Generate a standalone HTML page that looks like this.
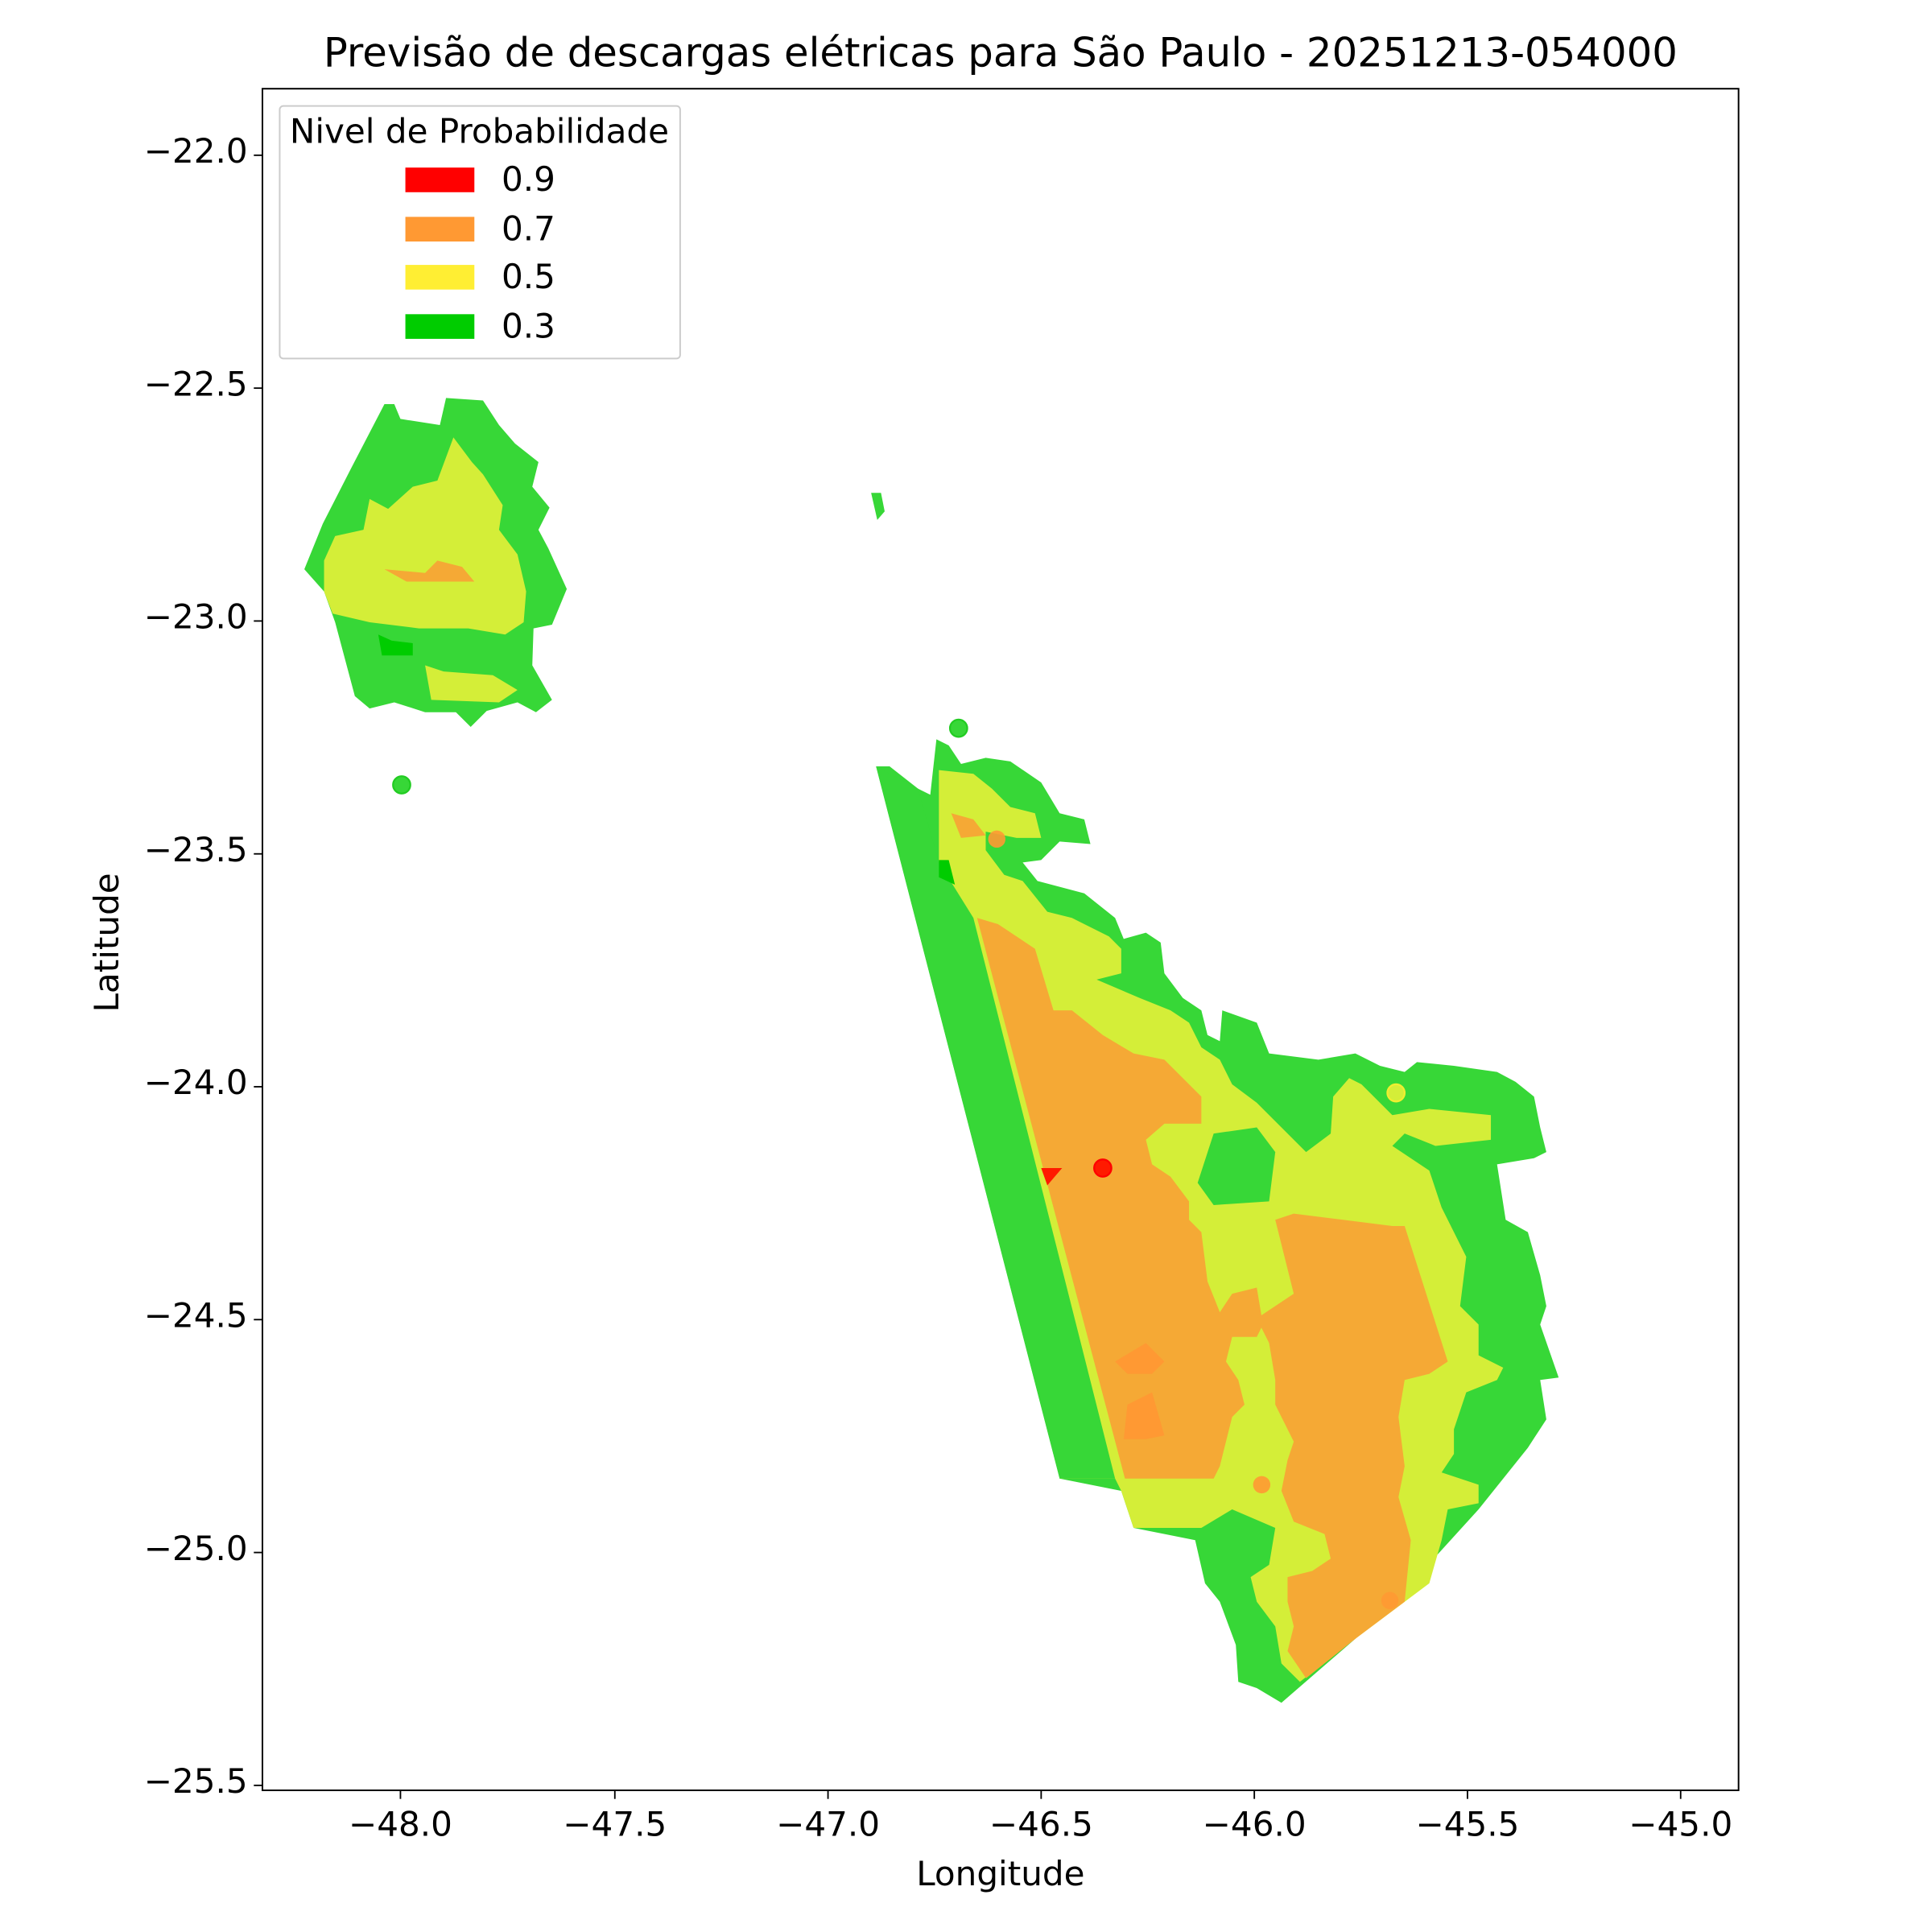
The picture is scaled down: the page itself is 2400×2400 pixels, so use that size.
<!DOCTYPE html>
<html><head><meta charset="utf-8"><style>
html,body{margin:0;padding:0;background:#fff;}
svg{display:block;}
text{font-family:"DejaVu Sans","Liberation Sans",sans-serif;fill:#000;}
</style></head><body>
<svg width="2400" height="2400" viewBox="0 0 1568 1568" xmlns="http://www.w3.org/2000/svg">
<rect width="1568" height="1568" fill="#fff"/>
<text x="812" y="54" font-size="32.5" text-anchor="middle">Previsão de descargas elétricas para São Paulo - 20251213-054000</text>

<polygon fill="#37d737" points="247,462 262,425 285,380 312,328 320,328 325,340 357,345 362,323 392,325 405,345 418,360 437,375 432,395 446,412 437,430 445,445 460,478 448,507 433,510 432,540 448,568 435,578 420,570 395,577 382,590 370,578 345,578 320,570 300,575 288,565 280,535 272,505 263,480"/>
<polygon fill="#d4ee38" points="263,455 272,435 295,430 300,405 315,413 335,395 355,390 368,355 383,375 392,385 408,410 405,430 420,450 427,480 425,505 410,515 380,510 340,510 300,505 270,498 263,480"/>
<polygon fill="#d4ee38" points="345,540 360,545 400,548 420,560 405,570 350,568"/>
<polygon fill="#f5a935" points="312,462 345,465 355,455 375,460 385,472 330,472"/>
<polygon fill="#00cc00" points="307,515 318,520 335,522 335,532 310,532"/>
<polygon fill="#37d737" points="707,400 715,400 718,415 712,422"/>

<polygon fill="#37d737" points="711,622 722,622 745,640 755,645 760,600 770,605 780,620 800,615 820,618 845,635 860,660 880,665 885,685 860,683 845,698 830,700 842,715 880,725 905,745 912,762 930,757 942,765 945,790 960,810 975,820 980,840 990,845 992,820 1020,830 1030,855 1070,860 1100,855 1120,865 1140,870 1150,862 1180,865 1215,870 1230,878 1245,890 1250,915 1255,935 1245,940 1215,945 1222,990 1240,1000 1250,1035 1255,1060 1250,1075 1265,1118 1250,1120 1255,1152 1240,1175 1200,1225 1150,1280 1100,1330 1040,1382 1020,1370 1005,1365 1003,1335 990,1300 978,1285 970,1250 920,1240 910,1210 860,1200"/>
<polygon fill="#d4ee38" points="762,625 790,628 805,640 820,655 840,660 845,680 825,680 800,675 800,690 815,710 830,715 850,740 870,745 900,760 910,770 910,790 890,795 925,810 950,820 965,830 975,850 990,860 1000,880 1020,895 1040,915 1060,935 1080,920 1082,890 1095,875 1105,880 1130,905 1160,900 1210,905 1210,925 1165,930 1140,920 1130,930 1160,950 1170,980 1180,1000 1190,1020 1185,1060 1200,1075 1200,1100 1220,1110 1215,1120 1190,1130 1180,1160 1180,1180 1170,1195 1200,1205 1200,1220 1175,1225 1170,1250 1160,1285 1100,1330 1055,1365 1040,1350 1035,1320 1020,1300 1015,1280 1030,1270 1035,1240 1000,1225 975,1240 920,1240 910,1210 905,1200 860,1200 782,745 762,700"/>
<polygon fill="#37d737" points="711,622 745,640 762,700 790,745 905,1200 860,1200"/>
<polygon fill="#f5a935" points="793,745 810,750 840,770 855,820 870,820 895,840 920,855 945,860 975,890 975,912 945,912 930,925 935,945 950,955 965,975 965,990 975,1000 980,1040 990,1065 1000,1050 1020,1045 1025,1075 1020,1085 1000,1085 995,1105 1005,1120 1010,1140 1000,1150 990,1190 985,1200 913,1200"/>
<polygon fill="#f5a935" points="1035,990 1050,985 1090,990 1130,995 1140,995 1175,1105 1160,1115 1140,1120 1135,1150 1140,1190 1135,1215 1145,1250 1140,1300 1100,1330 1060,1362 1045,1340 1050,1320 1045,1300 1045,1280 1065,1275 1080,1265 1075,1245 1050,1235 1040,1210 1045,1185 1050,1170 1035,1140 1035,1120 1030,1090 1020,1070 1050,1050 1045,1030"/>
<polygon fill="#f5a935" points="772,660 790,665 800,678 780,680"/>
<polygon fill="#ff9933" points="905,1105 930,1090 945,1105 935,1115 915,1115"/>
<polygon fill="#ff9933" points="915,1140 935,1130 945,1165 930,1168 912,1168"/>
<polygon fill="#37d737" points="985,920 1020,915 1035,935 1030,975 985,978 972,960"/>
<polygon fill="#00cc00" points="762,698 770,698 775,718 762,712"/>
<polygon fill="#ff1a00" points="845,948 862,948 850,962"/>

<circle cx="778" cy="591" r="7" fill="#37d737" stroke="#22cc22" stroke-width="1.5"/>
<circle cx="326" cy="637" r="7" fill="#37d737" stroke="#22cc22" stroke-width="1.5"/>
<circle cx="809" cy="681" r="7" fill="#ff9933" opacity="0.9"/>
<circle cx="1024" cy="1205" r="7" fill="#ff9933" opacity="0.9"/>
<circle cx="1128" cy="1299" r="7" fill="#ff9933" opacity="0.9"/>
<circle cx="895" cy="948" r="7" fill="#ff1a00" stroke="#ff0000" stroke-width="1.5"/>
<circle cx="1133" cy="887" r="7" fill="#d4ee38" stroke="#f0ee30" stroke-width="1.5"/>

<rect x="213" y="72" width="1198" height="1381" fill="none" stroke="#000" stroke-width="1.3"/>
<g stroke="#000" stroke-width="1.2">
<line x1="325" y1="1453" x2="325" y2="1460"/><line x1="499" y1="1453" x2="499" y2="1460"/><line x1="672" y1="1453" x2="672" y2="1460"/><line x1="845" y1="1453" x2="845" y2="1460"/><line x1="1018" y1="1453" x2="1018" y2="1460"/><line x1="1191" y1="1453" x2="1191" y2="1460"/><line x1="1364" y1="1453" x2="1364" y2="1460"/>
<line x1="206" y1="126" x2="213" y2="126"/><line x1="206" y1="315" x2="213" y2="315"/><line x1="206" y1="504" x2="213" y2="504"/><line x1="206" y1="693" x2="213" y2="693"/><line x1="206" y1="882" x2="213" y2="882"/><line x1="206" y1="1071" x2="213" y2="1071"/><line x1="206" y1="1260" x2="213" y2="1260"/><line x1="206" y1="1449" x2="213" y2="1449"/>
</g>
<g font-size="27.5" text-anchor="middle">
<text x="325" y="1490">−48.0</text><text x="499" y="1490">−47.5</text><text x="672" y="1490">−47.0</text><text x="845" y="1490">−46.5</text><text x="1018" y="1490">−46.0</text><text x="1191" y="1490">−45.5</text><text x="1364" y="1490">−45.0</text>
</g>
<g font-size="27.5" text-anchor="end">
<text x="201" y="132">−22.0</text><text x="201" y="321">−22.5</text><text x="201" y="510">−23.0</text><text x="201" y="699">−23.5</text><text x="201" y="888">−24.0</text><text x="201" y="1077">−24.5</text><text x="201" y="1266">−25.0</text><text x="201" y="1455">−25.5</text>
</g>
<text x="812" y="1530" font-size="27.5" text-anchor="middle">Longitude</text>
<text x="96" y="765" font-size="27.5" text-anchor="middle" transform="rotate(-90 96 765)">Latitude</text>

<rect x="227" y="86" width="325" height="205" rx="3" fill="#fff" fill-opacity="0.8" stroke="#ccc" stroke-width="1.3"/>
<text x="389" y="116" font-size="27.5" text-anchor="middle">Nivel de Probabilidade</text>
<rect x="329" y="136" width="56" height="20" fill="#ff0000"/>
<rect x="329" y="176" width="56" height="20" fill="#ff9933"/>
<rect x="329" y="215" width="56" height="20" fill="#ffee33"/>
<rect x="329" y="255" width="56" height="20" fill="#00cc00"/>
<g font-size="27.5"><text x="407" y="155">0.9</text><text x="407" y="195">0.7</text><text x="407" y="234">0.5</text><text x="407" y="274">0.3</text></g>
</svg>
</body></html>
